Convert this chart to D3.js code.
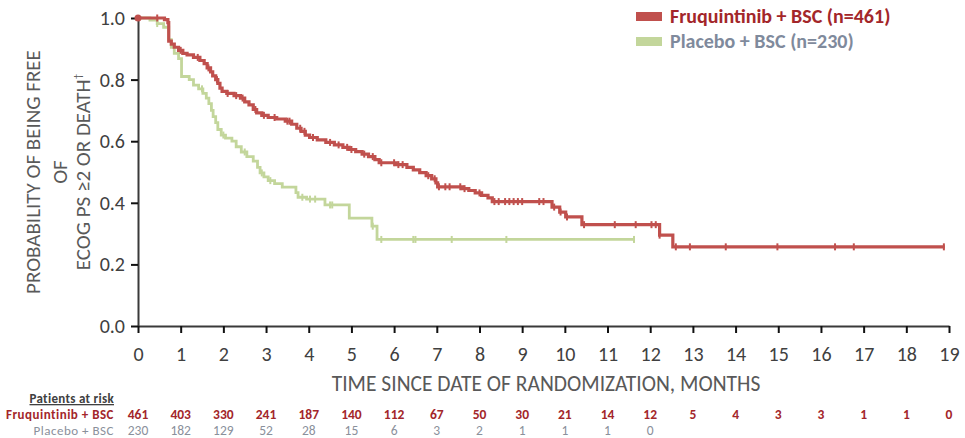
<!DOCTYPE html>
<html>
<head>
<meta charset="utf-8">
<script src="https://cdn.jsdelivr.net/npm/d3@7/dist/d3.min.js"></script>
<style>
  html, body { margin: 0; padding: 0; background: #fff; }
  svg { display: block; }
  text { font-family: Carlito, Lato, "Liberation Sans", sans-serif; }
</style>
</head>
<body>
<svg id="chart" width="965" height="438"></svg>
<script>
// Kaplan–Meier step estimates: [month, probability]
const fruqSteps = [
  [0, 1.0], [0.62, 0.995], [0.70, 0.985], [0.72, 0.925], [0.78, 0.915], [0.85, 0.905],
  [0.95, 0.895], [1.05, 0.885], [1.15, 0.880], [1.30, 0.872], [1.45, 0.862], [1.55, 0.852],
  [1.62, 0.838], [1.70, 0.825], [1.75, 0.812], [1.82, 0.800], [1.87, 0.788], [1.92, 0.772],
  [1.97, 0.762], [2.08, 0.755], [2.25, 0.748], [2.40, 0.740], [2.50, 0.728], [2.60, 0.718],
  [2.70, 0.703], [2.78, 0.692], [2.90, 0.684], [3.05, 0.677], [3.25, 0.672], [3.45, 0.665],
  [3.60, 0.655], [3.72, 0.642], [3.82, 0.632], [3.92, 0.620], [4.02, 0.612], [4.20, 0.604],
  [4.40, 0.596], [4.60, 0.588], [4.80, 0.580], [4.95, 0.573], [5.10, 0.566], [5.25, 0.558],
  [5.40, 0.550], [5.55, 0.540], [5.65, 0.530], [6.05, 0.524], [6.30, 0.515], [6.45, 0.507],
  [6.60, 0.498], [6.75, 0.488], [6.88, 0.478], [6.98, 0.465], [7.02, 0.452], [7.60, 0.446],
  [7.75, 0.440], [7.90, 0.432], [8.05, 0.424], [8.20, 0.416], [8.30, 0.404], [9.70, 0.386],
  [9.88, 0.370], [10.02, 0.354], [10.40, 0.329], [12.22, 0.295], [12.53, 0.257], [18.9, 0.257]
];
const placeboSteps = [
  [0, 1.0], [0.28, 0.993], [0.45, 0.982], [0.60, 0.970], [0.72, 0.930], [0.78, 0.905],
  [0.85, 0.885], [0.95, 0.868], [1.02, 0.810], [1.20, 0.800], [1.30, 0.782], [1.42, 0.770],
  [1.52, 0.755], [1.60, 0.740], [1.66, 0.722], [1.72, 0.700], [1.76, 0.680], [1.82, 0.660],
  [1.87, 0.638], [1.95, 0.620], [2.05, 0.610], [2.20, 0.600], [2.30, 0.582], [2.42, 0.565],
  [2.55, 0.550], [2.70, 0.535], [2.80, 0.515], [2.86, 0.497], [2.95, 0.484], [3.05, 0.472],
  [3.20, 0.462], [3.38, 0.451], [3.70, 0.433], [3.75, 0.418], [3.95, 0.412], [4.38, 0.393],
  [4.95, 0.350], [5.48, 0.324], [5.60, 0.281], [11.62, 0.281]
];
// Censoring times (months)
const fruqCensored = [
  0.45, 1.0, 1.4, 1.65, 1.85, 2.1, 2.3, 2.45, 2.75, 2.95, 3.2, 3.5, 3.55, 3.8, 3.9, 4.1,
  4.5, 4.7, 4.9, 5.0, 5.3, 5.5, 5.7, 6.0, 6.1, 6.2, 6.8, 6.95, 7.05, 7.2, 7.3, 7.55, 7.65,
  8.0, 8.35, 8.45, 8.6, 8.7, 8.8, 8.9, 9.0, 9.4, 9.5, 9.75, 9.9, 10.05, 10.45, 11.17, 11.66,
  12.03, 12.13, 12.22, 12.6, 12.93, 13.77, 14.98, 16.33, 16.77, 18.88
];
const placeboCensored = [
  0.45, 1.5, 2.0, 2.5, 2.9, 3.1, 3.85, 4.03, 4.15, 4.5, 4.55, 5.5, 5.7, 6.45, 6.5, 7.35, 8.63, 11.62
];
// Number at risk at each whole month
const riskMonths = d3.range(0, 20);
const fruqAtRisk = [461, 403, 330, 241, 187, 140, 112, 67, 50, 30, 21, 14, 12, 5, 4, 3, 3, 1, 1, 0];
const placeboAtRisk = [230, 182, 129, 52, 28, 15, 6, 3, 2, 1, 1, 1, 0];
const yTicks = [0, 0.2, 0.4, 0.6, 0.8, 1.0];
const xTicks = d3.range(0, 20);

const colors = { fruq: "#c0504d", placebo: "#c3d69b", fruqText: "#a3262a", placeboText: "#7f8a9c", axis: "#3a3a3a", label: "#595959" };

const svg = d3.select("#chart");
const x = d3.scaleLinear().domain([0, 19]).range([138, 949]);
const y = d3.scaleLinear().domain([0, 1]).range([326, 18]);

// Axes
const yAxis = svg.append("g").attr("transform", `translate(${x(0)},0)`)
  .call(d3.axisLeft(y).tickValues(yTicks).tickFormat(d3.format(".1f")).tickSize(7).tickSizeOuter(0).tickPadding(6));
const xAxis = svg.append("g").attr("transform", `translate(0,${y(0)})`)
  .call(d3.axisBottom(x).tickValues(xTicks).tickFormat(d3.format("d")).tickSize(7).tickSizeOuter(0).tickPadding(14));
[yAxis, xAxis].forEach(g => {
  g.select(".domain").attr("stroke", colors.axis).attr("stroke-width", 2);
  g.selectAll(".tick line").attr("stroke", "#111").attr("stroke-width", 2);
  g.selectAll(".tick text").attr("fill", "#404040").style("font-size", "20px")
    .style("font-family", "Carlito, Lato, 'Liberation Sans', sans-serif");
});

// Axis titles
svg.append("text").attr("x", 546).attr("y", 391).attr("text-anchor", "middle")
  .attr("fill", colors.label).style("font-size", "21.5px")
  .text("TIME SINCE DATE OF RANDOMIZATION, MONTHS");

const yTitle = svg.append("g").attr("transform", "translate(0,172) rotate(-90)");
const yLines = [["PROBABILITY OF BEING FREE", 40], ["OF", 67], ["ECOG PS ≥2 OR DEATH", 90]];
yLines.forEach(([t, yy], i) => {
  const tx = yTitle.append("text").attr("x", 0).attr("y", yy).attr("text-anchor", "middle")
    .attr("fill", colors.label).style("font-size", "21px").text(t);
  if (i === 2) tx.append("tspan").attr("dy", -9).style("font-size", "11px").text("†");
});

// Survival curves
const stepLine = d3.line().x(d => x(d[0])).y(d => y(d[1])).curve(d3.curveStepAfter);
function survivalAt(steps, t) {
  let s = steps[0][1];
  for (const [tt, v] of steps) { if (tt <= t) s = v; else break; }
  return s;
}
function drawArm(steps, censored, color, width) {
  svg.append("path").datum(steps).attr("d", stepLine)
    .attr("fill", "none").attr("stroke", color).attr("stroke-width", width).attr("stroke-linejoin", "miter");
  svg.append("g").selectAll("line").data(censored).join("line")
    .attr("x1", d => x(d)).attr("x2", d => x(d))
    .attr("y1", d => y(survivalAt(steps, d)) - 3.5).attr("y2", d => y(survivalAt(steps, d)) + 3.5)
    .attr("stroke", color).attr("stroke-width", 2);
}
drawArm(placeboSteps, placeboCensored, colors.placebo, 2.8);
drawArm(fruqSteps, fruqCensored, colors.fruq, 3.2);
svg.append("circle").attr("cx", x(0)).attr("cy", y(1)).attr("r", 3.5).attr("fill", colors.fruq);

// Legend
const legend = [
  { label: "Fruquintinib + BSC (n=461)", color: colors.fruq, text: colors.fruqText },
  { label: "Placebo + BSC (n=230)", color: colors.placebo, text: colors.placeboText }
];
legend.forEach((d, i) => {
  svg.append("rect").attr("x", 636).attr("y", 12 + i * 25).attr("width", 26).attr("height", 9).attr("fill", d.color);
  svg.append("text").attr("x", 670).attr("y", 23 + i * 25).attr("fill", d.text)
    .style("font-size", "20px").style("font-weight", "bold").text(d.label);
});

// Patients at risk table
svg.append("text").attr("x", 114).attr("y", 403).attr("text-anchor", "end")
  .attr("fill", "#404040").style("font-size", "13px").style("font-weight", "bold")
  .style("letter-spacing", "0.3px")
  .style("text-decoration", "underline").text("Patients at risk");
const rows = [
  { label: "Fruquintinib + BSC", values: fruqAtRisk, color: colors.fruqText, bold: true, yy: 419 },
  { label: "Placebo + BSC", values: placeboAtRisk, color: "#8a909b", bold: false, yy: 435 }
];
rows.forEach(r => {
  svg.append("text").attr("x", 114).attr("y", r.yy).attr("text-anchor", "end")
    .attr("fill", r.color).style("font-size", "13px").style("font-weight", r.bold ? "bold" : "normal")
    .style("letter-spacing", "0.5px").text(r.label);
  svg.append("g").selectAll("text").data(r.values).join("text")
    .attr("x", (d, i) => x(riskMonths[i])).attr("y", r.yy).attr("text-anchor", "middle")
    .attr("fill", r.color).style("font-size", "13.5px").style("font-weight", r.bold ? "bold" : "normal")
    .text(d => d);
});
</script>
</body>
</html>
